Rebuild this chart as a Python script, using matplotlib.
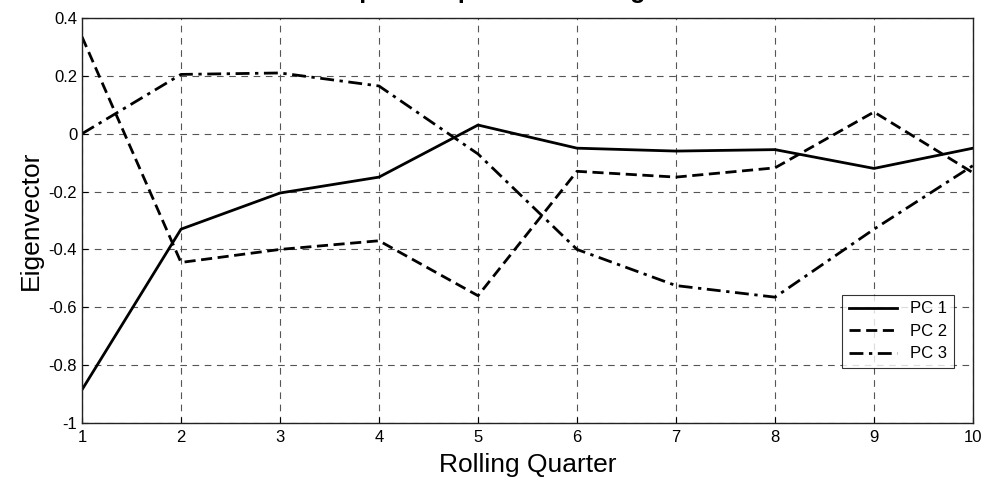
import matplotlib
matplotlib.use("Agg")
import matplotlib.pyplot as plt

quarters = [1, 2, 3, 4, 5, 6, 7, 8, 9, 10]
pc1 = [-0.885, -0.33, -0.205, -0.15, 0.03, -0.05, -0.06, -0.055, -0.12, -0.05]
pc2 = [0.335, -0.445, -0.40, -0.37, -0.56, -0.13, -0.15, -0.118, 0.075, -0.135]
pc3 = [0.0, 0.205, 0.21, 0.165, -0.07, -0.40, -0.525, -0.565, -0.33, -0.11]
series_labels = ["PC 1", "PC 2", "PC 3"]
yticks = [-1, -0.8, -0.6, -0.4, -0.2, 0, 0.2, 0.4]
ytick_labels = ["-1", "-0.8", "-0.6", "-0.4", "-0.2", "0", "0.2", "0.4"]

plt.rcParams['font.family'] = ['Liberation Sans', 'DejaVu Sans']

fig = plt.figure(figsize=(9.87, 4.83), dpi=100)
ax = fig.add_axes([82/987, 1-423/483, (973-82)/987, (423-18)/483])

ax.plot(quarters, pc1, color='black', lw=2.0, linestyle='-', label=series_labels[0])
ax.plot(quarters, pc2, color='black', lw=2.0, linestyle=(0, (4, 2)), label=series_labels[1])
ax.plot(quarters, pc3, color='black', lw=2.0, linestyle=(0, (5, 2, 1.2, 2)), label=series_labels[2])

ax.set_xlim(1, 10)
ax.set_ylim(-1, 0.4)
ax.set_xticks(quarters)
ax.set_yticks(yticks)
ax.set_yticklabels(ytick_labels)
ax.tick_params(direction='in', labelsize=12, length=4, width=0.8)
ax.tick_params(axis='x', pad=5)
ax.grid(True, color='#555555', linestyle=(0, (6, 5)), linewidth=0.8)
for s in ax.spines.values():
    s.set_linewidth(1.0)
    s.set_color('#222222')

ax.set_xlabel("Rolling Quarter", fontsize=19, labelpad=6)
ax.set_ylabel("Eigenvector", fontsize=19, labelpad=4)

leg = ax.legend(loc='lower right', bbox_to_anchor=(0.988, 0.115), fontsize=12,
                frameon=True, fancybox=False, edgecolor='black', handlelength=2.9,
                borderpad=0.4, labelspacing=0.45)
leg.get_frame().set_linewidth(0.8)

fig.text(475/987, 1 + 2/483, "Principal Component Loadings", fontsize=18,
         fontweight='bold', ha='center', va='baseline')

fig.savefig("out.png", dpi=100)
